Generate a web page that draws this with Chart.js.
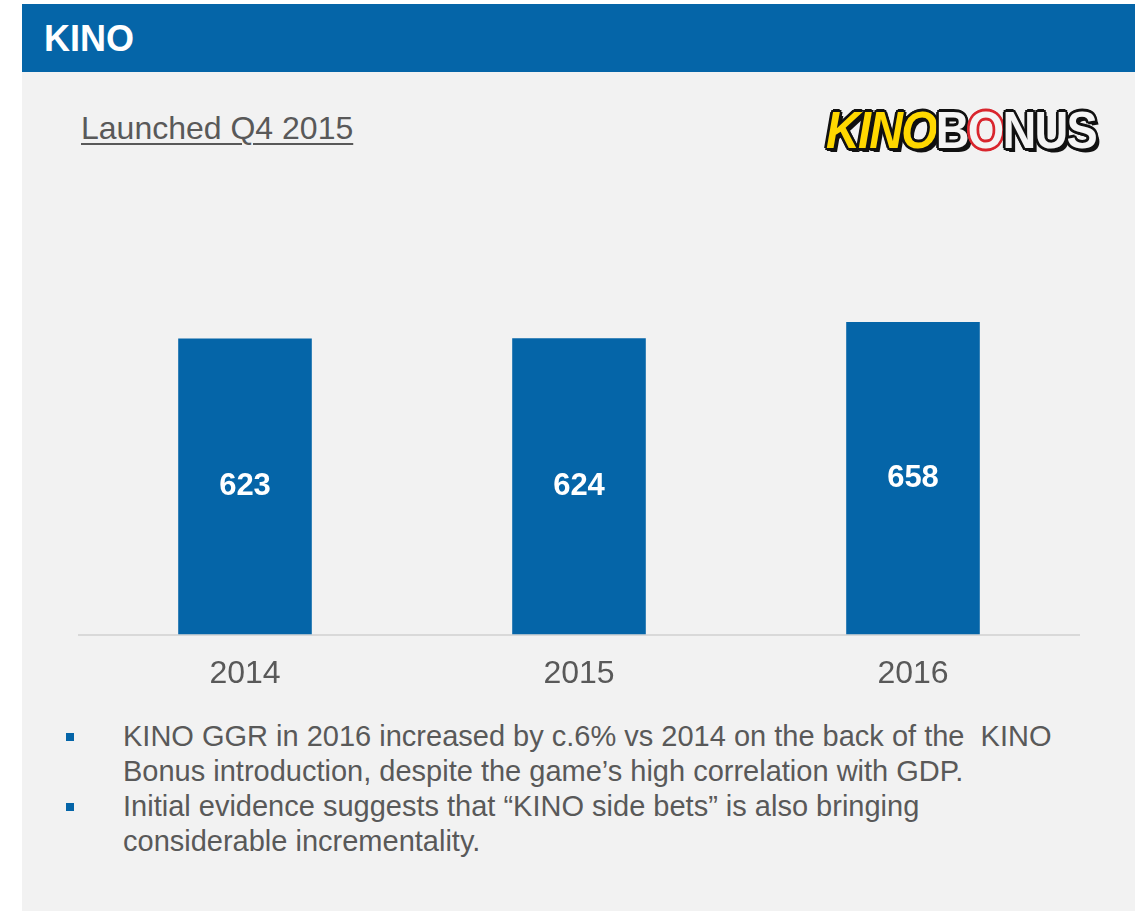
<!DOCTYPE html>
<html>
<head>
<meta charset="utf-8">
<script src="https://cdn.jsdelivr.net/npm/chart.js@4"></script>
<style>
    body { margin: 0; background: #ffffff; font-family: "Liberation Sans", Arial, sans-serif; }
    #page { position: relative; width: 1140px; height: 911px; overflow: hidden; }
    #header { position: absolute; left: 22px; top: 4px; width: 1113px; height: 68px; background: #0565a8; }
    #header span { position: absolute; left: 22px; top: 14px; color: #fff; font-weight: bold; font-size: 36px; }
    #panel { position: absolute; left: 22px; top: 72px; width: 1113px; height: 839px; background: #f2f2f2; }
    #launched { position: absolute; left: 81px; top: 110px; font-size: 32px; color: #595959; text-decoration: underline; text-underline-offset: 4px; text-decoration-thickness: 2px; }
    #logo { position: absolute; left: 826px; top: 100px; font-weight: bold; font-size: 52px; letter-spacing: -2px;
        transform: scaleX(0.9); transform-origin: left top; white-space: nowrap;
        text-shadow: 3px 0 #111, -3px 0 #111, 0 3px #111, 0 -3px #111, 2px 2px #111, -2px -2px #111, 2px -2px #111, -2px 2px #111, 4px 4px #111; }
    #logo .k { color: #ffd800; font-style: italic; }
    #logo .b { color: #f4f4f4; }
    #logo .o { color: #f4f4f4; text-shadow: 3px 0 #d9262e, -3px 0 #d9262e, 0 3px #d9262e, 0 -3px #d9262e, 2px 2px #d9262e, -2px -2px #d9262e, 2px -2px #d9262e, -2px 2px #d9262e; }
    #chartWrap { position: absolute; left: 78px; top: 207px; }
    #notes { position: absolute; left: 60px; top: 719px; width: 1015px; font-size: 29px; line-height: 35px; color: #595959; }
    .item { position: relative; padding-left: 63px; }
    .item::before { content: ""; position: absolute; left: 6px; top: 14px; width: 8px; height: 8px; background: #0565a8; }
</style>
</head>
<body>
<div id="page">
    <div id="header"><span>KINO</span></div>
    <div id="panel"></div>
    <div id="launched">Launched Q4 2015</div>
    <div id="logo"><span class="k">KINO</span><span class="b">B</span><span class="o">O</span><span class="b">NUS</span></div>
    <div id="chartWrap"><canvas id="chart" width="1002" height="506"></canvas></div>
    <div id="notes">
        <div class="item">KINO GGR in 2016 increased by c.6% vs 2014 on the back of the&nbsp; KINO Bonus introduction, despite the game’s high correlation with GDP.</div>
        <div class="item">Initial evidence suggests that “KINO side bets” is also bringing considerable incrementality.</div>
    </div>
</div>
<script>
const years = ['2014', '2015', '2016'];
const ggr = [623, 624, 658];

const BAR_COLOR = '#0565a8';
const TEXT_GREY = '#595959';

// white value label in the middle of every bar
const insideLabels = {
    id: 'insideLabels',
    afterDatasetsDraw(chart) {
        const ctx = chart.ctx;
        const meta = chart.getDatasetMeta(0);
        ctx.save();
        ctx.fillStyle = '#ffffff';
        ctx.font = 'bold 31px "Liberation Sans", Arial, sans-serif';
        ctx.textAlign = 'center';
        ctx.textBaseline = 'middle';
        meta.data.forEach((bar, i) => {
            const mid = (bar.y + bar.base) / 2;
            ctx.fillText(String(ggr[i]), bar.x, mid);
        });
        ctx.restore();
    }
};

new Chart(document.getElementById('chart'), {
    type: 'bar',
    data: {
        labels: years,
        datasets: [{
            data: ggr,
            backgroundColor: BAR_COLOR,
            barPercentage: 0.4,
            categoryPercentage: 1.0
        }]
    },
    options: {
        responsive: false,
        animation: false,
        devicePixelRatio: 1,
        layout: { padding: 0 },
        plugins: {
            legend: { display: false },
            tooltip: { enabled: false }
        },
        scales: {
            x: {
                grid: { display: false, drawTicks: false },
                border: { display: true, color: '#d9d9d9', width: 2 },
                ticks: {
                    color: TEXT_GREY,
                    padding: 20,
                    font: { family: '"Liberation Sans", Arial, sans-serif', size: 32 }
                }
            },
            y: {
                display: false,
                min: 0,
                max: 900
            }
        }
    },
    plugins: [insideLabels]
});
</script>
</body>
</html>
